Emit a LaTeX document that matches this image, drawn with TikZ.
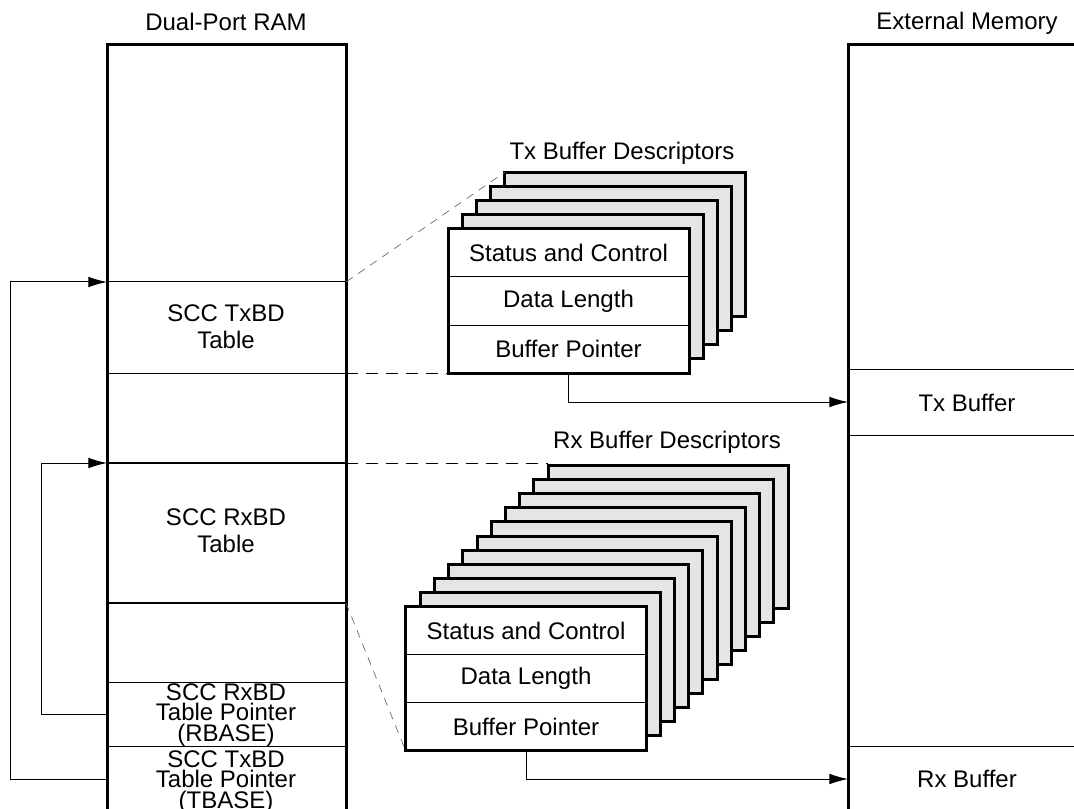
\documentclass[tikz,border=0pt]{standalone}
\usepackage{fontspec}
\setmainfont{Liberation Sans}
\usepackage{tikz}
\usetikzlibrary{arrows.meta,positioning}

\tikzset{
  thickline/.style={line width=2.25pt},
  midline/.style={line width=1.5pt},
  thinline/.style={line width=0.75pt},
  card/.style={line width=2.25pt, fill=black!10},
  field/.style={draw, line width=0.75pt, fill=white, minimum width=180.75pt,
    minimum height=36pt, inner sep=0pt, outer sep=0pt,
    font=\fontsize{18}{20}\selectfont},
  lbl/.style={font=\fontsize{18}{20}\selectfont, align=center},
  ptr/.style={font=\fontsize{18}{15.5}\selectfont, align=center, inner sep=0pt},
  arr/.style={line width=0.75pt, -{Latex[length=14pt,width=8pt]}},
  link/.style={line width=0.75pt, dash pattern=on 9pt off 6pt},
  faint/.style={line width=0.5pt, black!60, dash pattern=on 6pt off 5pt},
}

\begin{document}
\begin{tikzpicture}[x=0.75pt, y=-0.75pt]
    \useasboundingbox (0,0) rectangle (1074,809);
    % Dual-Port RAM
    \node[lbl] (ramlbl) at (226,22) {Dual-Port RAM};
    \draw[thickline] (107,815) |- (346,45) -- (346,815);
    \coordinate (txtopL) at (107,282);
    \coordinate (txtopR) at (346,282);
    \coordinate (txendR) at (346,373);
    \coordinate (rxtopL) at (107,463);
    \coordinate (rxtopR) at (346,463);
    \coordinate (rxendR) at (346,603);
    \draw[thinline] (txtopL) -- (txtopR);
    \draw[thinline] (107,373) -- (txendR);
    \draw[midline] (rxtopL) -- (rxtopR);
    \draw[midline] (107,603) -- (rxendR);
    \draw[thinline] (107,682) -- (346,682);
    \draw[thinline] (107,746) -- (346,746);
    \node[lbl] (txtab) at (226,327) {SCC TxBD\\Table};
    \node[lbl] (rxtab) at (226,531) {SCC RxBD\\Table};
    \node[ptr] (rbase) at (226,715) {SCC RxBD\\Table Pointer\\(RBASE)};
    \node[ptr] (tbase) at (226,782) {SCC TxBD\\Table Pointer\\(TBASE)};
    \coordinate (rbout) at (107,714);
    \coordinate (tbout) at (107,779);
    \draw[arr] (tbout) -- ++(-97,0) |- (txtopL);
    \draw[arr] (rbout) -- ++(-66,0) |- (rxtopL);

    % Tx buffer descriptors
    \foreach \i in {4,3,2,1}
        \draw[card, shift={(\i*14.2,-\i*14.2)}] (448,229) rectangle (689,373);
    \node[field] (txsc) at (568.5,253) {Status and Control};
    \node[field, below=0pt of txsc] (txdl) {Data Length};
    \node[field, below=0pt of txdl] (txbp) {Buffer Pointer};
    \draw[thickline] (txsc.north west) rectangle (txbp.south east);
    \coordinate (txback) at (504.8,172.2);
    \node[lbl] (txlbl) at (622,153) {Tx Buffer Descriptors};
    \draw[faint] (txtopR) -- (txback);
    \draw[link] (txendR) -- (txbp.south west);

    % Rx buffer descriptors
    \foreach \i in {10,9,...,1}
        \draw[card, shift={(\i*14.2,-\i*14.2)}] (406,607) rectangle (646,750);
    \node[field] (rxsc) at (526,630.5) {Status and Control};
    \node[field, below=0pt of rxsc] (rxdl) {Data Length};
    \node[field, below=0pt of rxdl] (rxbp) {Buffer Pointer};
    \draw[thickline] (rxsc.north west) rectangle (rxbp.south east);
    \coordinate (rxback) at (548,465);
    \node[lbl] (rxlbl) at (667,442) {Rx Buffer Descriptors};
    \draw[link] (rxtopR) -- (rxtopR -| rxback);
    \draw[faint] (rxendR) -- (rxbp.south west);

    % External memory
    \node[lbl] (extlbl) at (967,23) {External Memory};
    \draw[thickline] (848,815) |- (1090,45);
    \draw[thinline] (848,369) -- (1090,369);
    \draw[thinline] (848,435) -- (1090,435);
    \draw[thinline] (848,746) -- (1090,746);
    \node[lbl] (txbuf) at (967,403) {Tx Buffer};
    \node[lbl] (rxbuf) at (967,779) {Rx Buffer};
    \coordinate (txin) at (848,402);
    \coordinate (rxin) at (848,779);
    \draw[arr] (txbp.south) |- (txin);
    \draw[arr] (rxbp.south) |- (rxin);
\end{tikzpicture}
\end{document}
